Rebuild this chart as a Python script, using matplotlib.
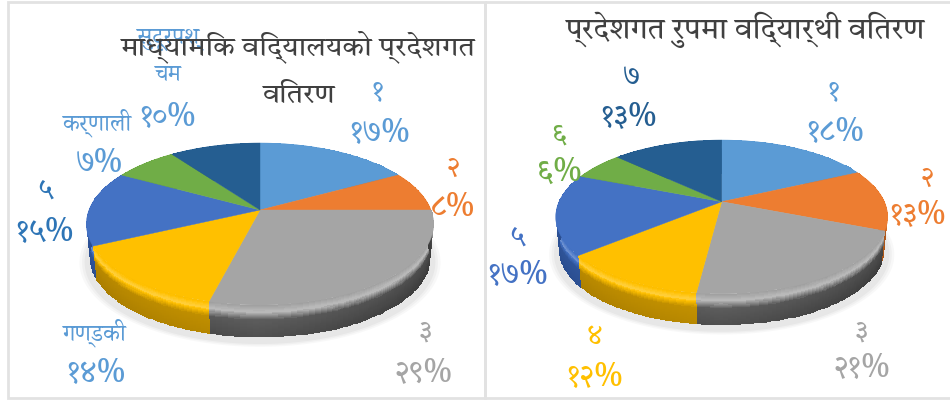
import matplotlib
matplotlib.use('Agg')
import matplotlib.pyplot as plt
import numpy as np

provinces_left = ['१', '२', '३', 'गण्डकी', '५', 'कर्णाली', 'सुदूरपश्\nचम']
values_left = [17, 8, 29, 14, 15, 7, 10]
percent_left = ['१७%', '८%', '२९%', '१४%', '१५%', '७%', '१०%']
label_colors_left = ['#5B9BD5', '#ED7D31', '#A5A5A5', '#5B9BD5', '#2E75B6', '#5B9BD5', '#5B9BD5']

provinces_right = ['१', '२', '३', '४', '५', '६', '७']
values_right = [18, 13, 21, 12, 17, 6, 13]
percent_right = ['१८%', '१३%', '२१%', '१२%', '१७%', '६%', '१३%']
label_colors_right = ['#5B9BD5', '#ED7D31', '#A5A5A5', '#FFC000', '#4472C4', '#70AD47', '#255E91']

title_left = ['माध्यामिक विद्यालयको प्रदेशगत', 'वितरण']
title_right = 'प्रदेशगत रुपमा विद्यार्थी वितरण'

slice_colors = ['#5B9BD5', '#ED7D31', '#A5A5A5', '#FFC000', '#4472C4', '#70AD47', '#255E91']
side_dark = ['#2F6DA8', '#A85417', '#3A3A3A', '#A87C00', '#2A4D8F', '#4A7A2C', '#163C5E']

plt.rcParams['font.family'] = ['Tiro Devanagari Hindi', 'Noto Sans', 'DejaVu Sans']
label_fonts = ['Noto Serif Devanagari', 'Noto Sans', 'DejaVu Sans']


def to_rgb(c):
    return np.array(matplotlib.colors.to_rgb(c))


def project(theta, cx, cy, R, S, k):
    # theta runs clockwise from 12 o'clock, k is the perspective strength
    u = np.sin(theta)
    v = -np.cos(theta)
    w = 1 - k * v
    return cx + R * u / w, cy + S * v / w


def draw_pie(ax, values, cx, cy, R, S, k, depth):
    edges = np.cumsum([0] + list(values)) / sum(values) * 2 * np.pi

    # soft shadow on the floor
    th = np.linspace(0, 2 * np.pi, 200)
    for grow, a in zip([1.04, 1.025, 1.01], [0.05, 0.06, 0.08]):
        x, y = project(th, cx, cy + depth + 4, R * grow, S * grow, k)
        ax.fill(x, y, color='#808080', alpha=a, lw=0, zorder=1)

    # side wall, shaded top to bottom with the rounded bevel near the rim
    t = np.linspace(0, 1, 30)
    shade = np.interp(t, [0, 0.2, 0.45, 1], [0.05, -0.25, 0.85, 1.0])
    for i in range(len(values)):
        th = np.linspace(edges[i], edges[i + 1], 60)
        x_top, y_top = project(th, cx, cy, R, S, k)
        x_bot, y_bot = project(th, cx, cy + depth, R * 0.98, S * 0.98, k)
        X = np.outer(1 - t, x_top) + np.outer(t, x_bot)
        Y = np.outer(1 - t, y_top) + np.outer(t, y_bot)
        base = to_rgb(slice_colors[i])
        dark = to_rgb(side_dark[i])
        # a bit lighter towards the middle front, darkest out at the sides
        across = 0.8 + 0.2 * np.abs(np.sin(th))
        cols = np.zeros((len(t), len(th), 3))
        for j, s in enumerate(shade):
            if s < 0:
                cols[j, :] = base + (1 - base) * (-s)
            else:
                cols[j, :] = base + (dark - base) * (s * across)[:, None]
        ax.pcolormesh(X, Y, cols[:-1, :-1], shading='flat', zorder=2, rasterized=True)

    # top face
    for i in range(len(values)):
        th = np.linspace(edges[i], edges[i + 1], 80)
        x, y = project(th, cx, cy, R, S, k)
        ax.fill(np.r_[cx, x], np.r_[cy, y], color=slice_colors[i], lw=0.3, zorder=3)


def draw_labels(ax, names, pcts, colors, name_pos, pct_pos):
    for n, p, c, a, b in zip(names, pcts, colors, name_pos, pct_pos):
        name_size = 21 if len(n) == 1 else 17
        ax.text(a[0], a[1], n, color=c, fontsize=name_size, ha='center', va='center', zorder=4,
                linespacing=1.7, family=label_fonts)
        ax.text(b[0], b[1], p, color=c, fontsize=23, ha='center', va='center', zorder=4,
                family=label_fonts)


fig = plt.figure(figsize=(9.5, 4), dpi=100, facecolor='white')
ax = fig.add_axes([0, 0, 1, 1])
ax.set_xlim(0, 950)
ax.set_ylim(400, 0)
ax.axis('off')

# panel borders
ax.add_patch(plt.Rectangle((8, 2), 477, 396, fill=False, edgecolor='#E2E2E2', lw=2))
ax.add_patch(plt.Rectangle((485, 2), 480, 396, fill=False, edgecolor='#E2E2E2', lw=2))

draw_pie(ax, values_left, 260, 210, 171, 78.6, 0.173, 34)
draw_pie(ax, values_right, 721.7, 201.7, 162.7, 73.9, 0.198, 33)

name_pos_left = [(378, 92), (453, 168), (425, 332), (95, 333), (45, 190), (98, 123), (168, 57)]
pct_pos_left = [(380, 133), (453, 208), (424, 373), (96, 373), (45, 232), (99, 163), (168, 117)]
name_pos_right = [(834, 93), (927, 178), (861, 332), (595, 337), (517, 237), (559, 135), (631, 78)]
pct_pos_right = [(835, 132), (918, 215), (862, 368), (595, 377), (518, 275), (559, 172), (629, 117)]

draw_labels(ax, provinces_left, percent_left, label_colors_left, name_pos_left, pct_pos_left)
draw_labels(ax, provinces_right, percent_right, label_colors_right, name_pos_right, pct_pos_right)

ax.text(298, 47, title_left[0], color='#404040', fontsize=20.5, ha='center', va='center', zorder=5)
ax.text(299, 96, title_left[1], color='#404040', fontsize=20.5, ha='center', va='center', zorder=5)
ax.text(746, 30, title_right, color='#404040', fontsize=21.5, ha='center', va='center', zorder=5)

fig.savefig('out.png', dpi=100)
